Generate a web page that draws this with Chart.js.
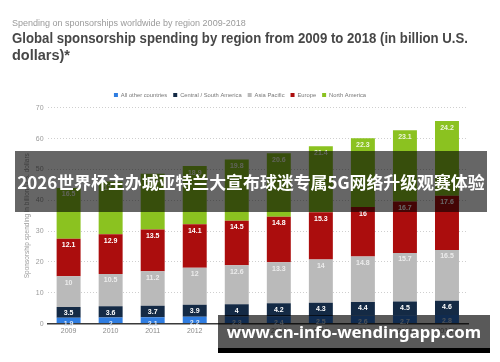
<!DOCTYPE html>
<html>
<head>
<meta charset="utf-8">
<script src="https://cdn.jsdelivr.net/npm/chart.js@4.4.0/dist/chart.umd.min.js"></script>
<style>
  html, body { margin: 0; padding: 0; background: #fff; }
  #wrap { position: relative; width: 500px; height: 362px; overflow: hidden; }
  canvas { display: block; }
  .banner {
    position: absolute; left: 15px; top: 151px; width: 472px; height: 61px;
    background: rgba(0, 0, 0, 0.6); color: #fff;
    font: bold 16.9px "Noto Sans CJK SC", "Noto Sans", sans-serif;
    display: flex; align-items: center; justify-content: center; white-space: nowrap;
  }
  .site {
    position: absolute; left: 218px; top: 315px; width: 272px; height: 33px;
    background: rgba(0, 0, 0, 0.65); color: #fff;
    border-bottom: 5px solid #000;
    font: bold 16.8px "Noto Sans", "DejaVu Sans", sans-serif;
    display: flex; align-items: center; justify-content: center; white-space: nowrap;
  }
</style>
</head>
<body>
<div id="wrap">
  <canvas id="chart" width="500" height="362"></canvas>
  <div class="banner">2026世界杯主办城亚特兰大宣布球迷专属5G网络升级观赛体验</div>
  <div class="site">www.cn-info-wendingapp.com</div>
</div>
<script>
// Datos (miles de millones USD)
const years = ['2009', '2010', '2011', '2012', '2013', '2014', '2015', '2016', '2017', '2018**'];
const otherCountries = [1.9, 2, 2.1, 2.2, 2.3, 2.4, 2.5, 2.6, 2.7, 2.8];
const centralSouthAmerica = [3.5, 3.6, 3.7, 3.9, 4, 4.2, 4.3, 4.4, 4.5, 4.6];
const asiaPacific = [10, 10.5, 11.2, 12, 12.6, 13.3, 14, 14.8, 15.7, 16.5];
const europe = [12.1, 12.9, 13.5, 14.1, 14.5, 14.8, 15.3, 16, 16.7, 17.6];
const northAmerica = [16.5, 17.1, 18.1, 18.9, 19.8, 20.6, 21.4, 22.3, 23.1, 24.2];
const yTicks = [0, 10, 20, 30, 40, 50, 60, 70];

const FONT = '"Liberation Sans", Arial, sans-serif';

// Etiquetas de valor, pegadas al borde superior de cada segmento
const valueLabels = {
  id: 'valueLabels',
  afterDatasetsDraw(chart) {
    const ctx = chart.ctx;
    ctx.save();
    ctx.font = 'bold 7px ' + FONT;
    ctx.textAlign = 'center';
    ctx.textBaseline = 'middle';
    chart.data.datasets.forEach((ds, i) => {
      const meta = chart.getDatasetMeta(i);
      meta.data.forEach((bar, j) => {
        ctx.fillStyle = ds.labelColor;
        ctx.fillText(String(ds.data[j]), bar.x, bar.y + 6.5);
      });
    });
    ctx.restore();
  }
};

new Chart(document.getElementById('chart'), {
  type: 'bar',
  data: {
    labels: years,
    datasets: [
      { label: 'All other countries', data: otherCountries, backgroundColor: '#2f7de1', labelColor: '#d8e6f8' },
      { label: 'Central / South America', data: centralSouthAmerica, backgroundColor: '#142a45', labelColor: '#ffffff' },
      { label: 'Asia Pacific', data: asiaPacific, backgroundColor: '#bababa', labelColor: '#ececec' },
      { label: 'Europe', data: europe, backgroundColor: '#ab0d0d', labelColor: '#ffffff' },
      { label: 'North America', data: northAmerica, backgroundColor: '#8bc220', labelColor: '#eef6dc' }
    ]
  },
  options: {
    responsive: false,
    animation: false,
    layout: { padding: { left: 12, right: 32, top: 0, bottom: 24 } },
    datasets: { bar: { categoryPercentage: 1, barPercentage: 0.57 } },
    plugins: {
      title: {
        display: true, align: 'start',
        text: 'Spending on sponsorships worldwide by region 2009-2018',
        color: '#9a9a9a', font: { family: FONT, size: 9, weight: 'normal', lineHeight: 1.2 },
        padding: { top: 18, bottom: 2 }
      },
      subtitle: {
        display: true, align: 'start',
        text: ['Global sponsorship spending by region from 2009 to 2018 (in billion U.S.', 'dollars)*'],
        color: '#474747', font: { family: FONT, size: 14.5, weight: 'bold', lineHeight: 1.18 },
        padding: { top: 0, bottom: 21 }
      },
      legend: {
        display: true,
        labels: {
          usePointStyle: true, pointStyle: 'rect', boxWidth: 4, boxHeight: 4,
          color: '#777', font: { family: FONT, size: 5.8 }, padding: 6
        }
      },
      tooltip: { enabled: false }
    },
    scales: {
      x: {
        stacked: true,
        grid: { display: false, drawTicks: false },
        border: { display: true, color: '#3a3a3a', width: 1.5 },
        ticks: { color: '#8a8a8a', font: { family: FONT, size: 7 }, padding: 3 }
      },
      y: {
        stacked: true, min: 0, max: 70,
        afterBuildTicks(scale) { scale.ticks = yTicks.map(v => ({ value: v })); },
        grid: { color: '#cfcfcf', drawTicks: false, lineWidth: 1 },
        border: { display: false, dash: [1, 2] },
        ticks: { color: '#9a9a9a', font: { family: FONT, size: 7 }, padding: 4 },
        title: {
          display: true, text: 'Sponsorship spending in billion U.S. dollars',
          color: '#9a9a9a', font: { family: FONT, size: 6.5 }, padding: { top: 11, bottom: 1 }
        }
      }
    }
  },
  plugins: [valueLabels]
});
</script>
</body>
</html>
